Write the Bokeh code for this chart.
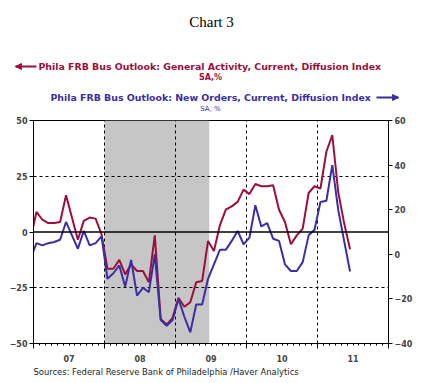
import pandas as pd
from bokeh.plotting import figure
from bokeh.models import (Range1d, LinearAxis, FixedTicker, BoxAnnotation, Span,
                          Label, Arrow, NormalHead, ColumnDataSource, Title)
from bokeh.embed import file_html
from bokeh.resources import INLINE

# ---------------- data ----------------
first_month = "2006-12"
# Phila FRB Bus Outlook: General Activity, Current, Diffusion Index (left axis)
general_activity = [-3, 9, 5.5, 4, 4, 4.5, 16.5, 6.5, -3.5, 5, 6.5, 6, -1,
                    -16.5, -16.5, -12.5, -19, -14.5, -17.5, -17.5, -22.5, -1.5, -39, -41.5, -38.5,
                    -29.5, -33.5, -31.5, -22.5, -22, -4, -8.5, 3, 10, 11.5, 13.5, 19,
                    17, 21.5, 20.5, 20.5, 21, 10, 4.5, -5.5, -1.5, 1.5, 17.5, 20.5,
                    19.5, 36, 43.5, 18, 4, -7.7]
# Phila FRB Bus Outlook: New Orders, Current, Diffusion Index (right axis)
new_orders = [-2, 5, 4, 5, 5.5, 6.5, 14.5, 8.5, 2.5, 10.5, 4, 5, 8,
              -11, -8.5, -5, -14.5, -2.5, -18.5, -15, -17, 0, -29.5, -32, -29.5,
              -20, -28, -35, -22.5, -22.5, -11, -4.5, 2, 2, 6, 10.5, 4.5,
              7.5, 22, 12.5, 14, 7, 6, -4.5, -7.5, -7.5, -3.5, 8.5, 11,
              23.5, 24, 40, 20, 6, -7.7]
year_labels = ["07", "08", "09", "10", "11"]
first_year = 2007
recession_start = "2008-01"
recession_end = "2009-06"
left_ticks = [-50, -25, 0, 25, 50]
right_ticks = [-40, -20, 0, 20, 40, 60]

title_text = "Chart 3"
ga_label = "Phila FRB Bus Outlook: General Activity, Current, Diffusion Index"
ga_unit = "SA,%"
no_label = "Phila FRB Bus Outlook: New Orders, Current, Diffusion Index"
no_unit = "SA, %"
source_text = "Sources:  Federal Reserve Bank of Philadelphia /Haver Analytics"

RED = "#9a0f3c"
BLUE = "#3a2ea2"

periods = pd.period_range(first_month, periods=len(general_activity), freq="M")
def month_pos(p):
    return (p.year - first_year) * 12 + (p.month - 1)
xs = [month_pos(p) + 0.5 for p in periods]
src = ColumnDataSource(dict(x=xs, ga=general_activity, no=new_orders))

W = 429
HEAD_H = 113
MAIN_H = 383 - HEAD_H

# ---------------- header (title and legend) ----------------
hd = figure(width=W, height=HEAD_H, x_range=Range1d(0, W), y_range=Range1d(HEAD_H, 0),
            output_backend="svg", toolbar_location=None, min_border=0,
            x_axis_location=None, y_axis_location=None)
hd.outline_line_color = None
hd.grid.visible = False
hd.background_fill_color = "white"
hd.border_fill_color = "white"

def lab(text, x, y, color="black", size="9px", font="DejaVu Sans", style="bold", align="left"):
    hd.add_layout(Label(x=x, y=y, text=text, text_color=color, text_font_size=size,
                        text_font=font, text_font_style=style, text_align=align,
                        text_baseline="middle"))

lab(title_text, 211, 21, size="15px", font="Liberation Serif", style="normal", align="center")
lab(ga_label, 38, 66, color=RED, size="9.4px")
lab(ga_unit, 210, 77, color=RED, size="8px", align="center")
lab(no_label, 50, 97, color=BLUE, size="9.4px")
lab(no_unit, 210, 108, color=BLUE, size="7px", style="normal", align="center")

def arrow(x0, x1, y, color):
    hd.add_layout(Arrow(x_start=x0, y_start=y, x_end=x1, y_end=y, start=None, end=None,
                        line_color=color, line_width=2))
    d = 1 if x1 > x0 else -1
    hd.add_layout(Arrow(x_start=x1 - d * 1, y_start=y, x_end=x1, y_end=y, start=None,
                        line_color=color, line_width=1,
                        end=NormalHead(size=6, fill_color=color, line_color=color)))

arrow(36, 15, 66, RED)
arrow(376, 398, 97, BLUE)

# ---------------- main chart ----------------
p = figure(width=W, height=MAIN_H, x_range=Range1d(0, 60), y_range=Range1d(-50, 50),
           output_backend="svg", toolbar_location=None,
           min_border_left=33, min_border_right=41, min_border_top=7, min_border_bottom=40,
           x_axis_location=None, y_axis_location=None)
p.outline_line_color = "black"
p.outline_line_width = 1
p.background_fill_color = "white"
p.border_fill_color = "white"
p.extra_y_ranges = {"right": Range1d(-40, 60)}

TICK_FONT = "DejaVu Sans"
la = LinearAxis(ticker=FixedTicker(ticks=left_ticks))
ra = LinearAxis(y_range_name="right", ticker=FixedTicker(ticks=right_ticks))
for ax in (la, ra):
    ax.major_label_text_font = TICK_FONT
    ax.major_label_text_font_style = "bold"
    ax.major_label_text_font_size = "8px"
    ax.major_tick_out = 4
    ax.major_tick_in = 0
    ax.minor_tick_line_color = None
    ax.major_label_standoff = 2
    ax.axis_line_color = "black"
p.add_layout(la, "left")
p.add_layout(ra, "right")

year_bounds = [12 * k for k in range(len(year_labels) + 1)]
ba = LinearAxis(ticker=FixedTicker(ticks=year_bounds, minor_ticks=list(range(0, 61))))
ba.major_tick_out = 5
ba.major_tick_in = 0
ba.minor_tick_out = 2
ba.minor_tick_in = 0
ba.major_label_overrides = {t: "" for t in year_bounds}
ba.major_label_text_font_size = "1px"
ba.major_label_standoff = 0
p.add_layout(ba, "below")

year_mid = [12 * k + 6 for k in range(len(year_labels))]
ba2 = LinearAxis(ticker=FixedTicker(ticks=year_mid))
ba2.major_label_overrides = {m: lab_ for m, lab_ in zip(year_mid, year_labels)}
ba2.major_label_text_font = TICK_FONT
ba2.major_label_text_font_style = "bold"
ba2.major_label_text_font_size = "8px"
ba2.major_tick_line_color = None
ba2.minor_tick_line_color = None
ba2.axis_line_color = None
ba2.major_label_standoff = 0
p.add_layout(ba2, "below")

p.add_layout(Title(text=source_text, align="left", text_font="DejaVu Sans",
                   text_font_size="8.4px", text_font_style="normal", text_color="#222222",
                   standoff=0, offset=0), "below")

p.xgrid.ticker = FixedTicker(ticks=year_bounds[1:-1])
p.ygrid.ticker = FixedTicker(ticks=[-25, 25])
for g in (p.xgrid, p.ygrid):
    g.grid_line_color = "black"
    g.grid_line_dash = "3 3"
    g.grid_line_width = 1

rs = pd.Period(recession_start, freq="M")
re_ = pd.Period(recession_end, freq="M")
p.add_layout(BoxAnnotation(left=month_pos(rs), right=month_pos(re_) + 0.7,
                           fill_color="#c6c6c6", fill_alpha=1, line_color=None, level="image"))
p.add_layout(Span(location=0, dimension="width", line_color="black", line_width=1.5))

p.line("x", "ga", source=src, line_color=RED, line_width=2)
p.line("x", "no", source=src, y_range_name="right", line_color=BLUE, line_width=2)

open("out.html", "w").write(file_html([hd, p], INLINE))
